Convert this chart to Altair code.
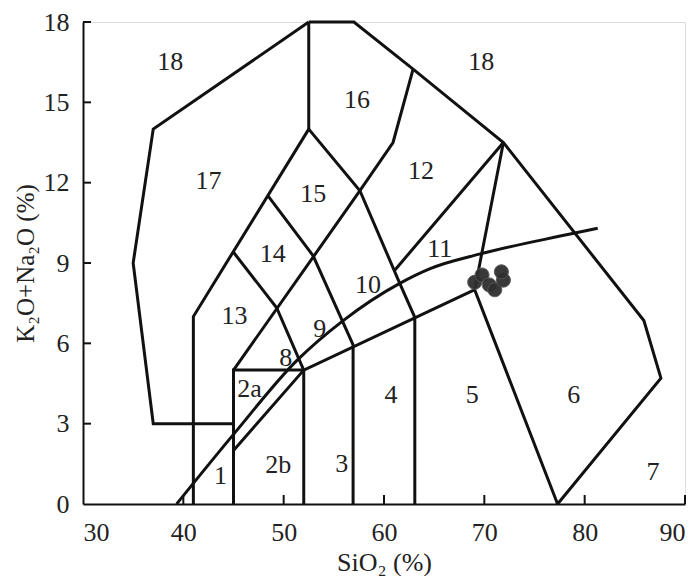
import altair as alt
import pandas as pd

FONT = "'Liberation Serif', 'Times New Roman', Times, serif"

# ---- boundary polylines (SiO2, K2O+Na2O) ----
outer_left = [(52.5, 18), (37, 14), (35, 9), (37, 3), (45, 3)]
outer_right = [(52.5, 18), (57, 18), (62.9, 16.24), (71.9, 13.5), (85.9, 6.85), (87.6, 4.7), (77.3, 0)]
top_vertical = [(52.5, 18), (52.5, 14)]
left_up = [(41, 0), (41, 7), (52.5, 14)]
mid_up = [(45, 5), (57.6, 11.7), (60.9, 13.5), (62.9, 16.24)]
down1 = [(45, 9.4), (49.3, 7.33), (52, 5)]
down2 = [(48.46, 11.5), (52.94, 9.27), (56.92, 5.94), (56.92, 0)]
down3 = [(52.5, 14), (57.6, 11.7), (61.57, 8.24), (63.07, 6.97), (63.07, 0)]
box2 = [(45, 0), (45, 5), (52, 5), (52, 0)]
lower_line = [(45, 2), (52, 5), (69, 8)]
line12 = [(71.9, 13.5), (61.07, 8.73)]
line5 = [(71.9, 13.5), (69.04, 8.0), (77.3, 0)]
upper_curve = [(39.33, 0), (45, 2.6), (51.4, 5.39), (55.93, 6.85), (61.57, 8.24),
               (64.6, 8.79), (69.5, 9.33), (78.8, 10.1), (81.3, 10.3)]

polylines = {
    "outer_left": outer_left, "outer_right": outer_right, "top_vertical": top_vertical,
    "left_up": left_up, "mid_up": mid_up, "down1": down1, "down2": down2, "down3": down3,
    "box2": box2, "lower_line": lower_line, "line12": line12, "line5": line5,
}

# ---- samples ----
sample_sio2 = [69.04, 69.77, 70.5, 71.04, 71.9, 71.7]
sample_alk = [8.28, 8.55, 8.18, 8.0, 8.36, 8.67]

# ---- field labels ----
label_text = ["18", "18", "16", "17", "15", "14", "12", "11", "10", "9", "8", "13",
              "2a", "2b", "1", "3", "4", "5", "6", "7"]
label_x = [38.7, 69.7, 57.3, 42.5, 52.94, 48.9, 63.7, 65.56, 58.4, 53.6, 50.2, 45.1,
           46.6, 49.45, 43.7, 55.8, 60.7, 68.8, 78.9, 86.8]
label_y = [16.5, 16.5, 15.1, 12.06, 11.58, 9.33, 12.42, 9.52, 8.18, 6.55, 5.45, 7.03,
           4.3, 1.45, 1.03, 1.5, 4.06, 4.06, 4.06, 1.21]

x_ticks = [30, 40, 50, 60, 70, 80, 90]
y_ticks = [0, 3, 6, 9, 12, 15, 18]

rows = []
for name, pts in polylines.items():
    for i, (x, y) in enumerate(pts):
        rows.append({"line": name, "order": i, "x": x, "y": y})
lines_df = pd.DataFrame(rows)
curve_df = pd.DataFrame({"order": range(len(upper_curve)),
                         "x": [p[0] for p in upper_curve],
                         "y": [p[1] for p in upper_curve]})
samples_df = pd.DataFrame({"x": sample_sio2, "y": sample_alk})
labels_df = pd.DataFrame({"t": label_text, "x": label_x, "y": label_y})
xt_df = pd.DataFrame({"v": x_ticks[1:]})
yt_df = pd.DataFrame({"v": y_ticks[1:]})

W, H = 602, 482
xs = alt.Scale(domain=[30, 90], nice=False, zero=False)
ys = alt.Scale(domain=[0, 18], nice=False, zero=False)

x_axis = alt.Axis(values=x_ticks, ticks=False, grid=False, domainColor="#111", domainWidth=2,
                  labelFont=FONT, labelFontSize=26, labelColor="#222", labelPadding=15,
                  title="SiO₂ (%)", titleFont=FONT, titleFontSize=26, titleFontWeight="normal",
                  titleColor="#222", titleY=66, titleBaseline="alphabetic")
y_axis = alt.Axis(values=y_ticks, ticks=False, grid=False, domainColor="#111", domainWidth=2,
                  labelFont=FONT, labelFontSize=26, labelColor="#222", labelPadding=14,
                  title="K₂O+Na₂O (%)", titleFont=FONT, titleFontSize=25, titleFontWeight="normal",
                  titleColor="#222", titleX=-50, titleY=H / 2, titleAngle=-90,
                  titleBaseline="alphabetic", titleAlign="center")

base_lines = alt.Chart(lines_df).mark_line(color="#111", strokeWidth=3, strokeJoin="miter").encode(
    x=alt.X("x:Q", scale=xs, axis=x_axis),
    y=alt.Y("y:Q", scale=ys, axis=y_axis),
    detail="line:N",
    order="order:O",
)
curve = alt.Chart(curve_df).mark_line(color="#111", strokeWidth=3, interpolate="monotone").encode(
    x=alt.X("x:Q", scale=xs), y=alt.Y("y:Q", scale=ys), order="order:O")

xticks = alt.Chart(xt_df).mark_rule(color="#111", strokeWidth=2).encode(
    x=alt.X("v:Q", scale=xs), y=alt.value(H), y2=alt.value(H - 9))
yticks = alt.Chart(yt_df).mark_rule(color="#111", strokeWidth=2).encode(
    y=alt.Y("v:Q", scale=ys), x=alt.value(0), x2=alt.value(8))

pts = alt.Chart(samples_df).mark_circle(size=200, color="#2f2f2f", opacity=0.95,
                                        stroke="#555", strokeWidth=1).encode(
    x=alt.X("x:Q", scale=xs), y=alt.Y("y:Q", scale=ys))

labels = alt.Chart(labels_df).mark_text(font=FONT, fontSize=26, color="#222",
                                        align="center", baseline="middle").encode(
    x=alt.X("x:Q", scale=xs), y=alt.Y("y:Q", scale=ys), text="t:N")

chart = alt.layer(base_lines, curve, xticks, yticks, labels, pts).properties(
    width=W, height=H,
    autosize=alt.AutoSizeParams(type="none"),
    padding={"left": 75, "top": 14, "right": 7, "bottom": 72},
).configure_view(strokeWidth=0).configure(background="white")

chart.save("out.html", embed_options={"renderer": "svg", "actions": False})
